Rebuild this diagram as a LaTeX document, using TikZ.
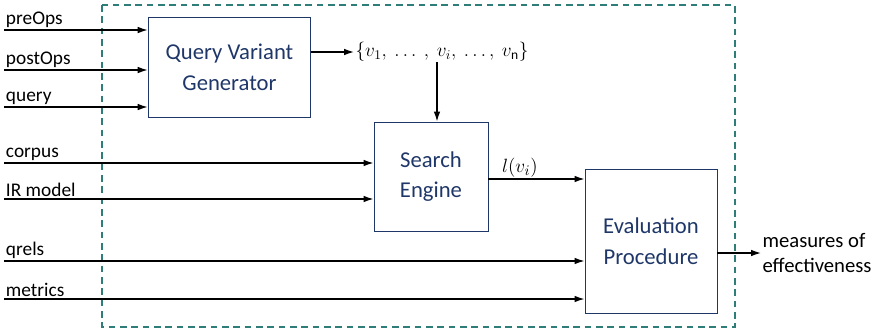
\documentclass[tikz,border=0pt]{standalone}
\usepackage{fontspec}
\setmainfont{Carlito}
\usepackage{amsmath}
\usepackage{tikz}
\usetikzlibrary{arrows.meta,positioning,calc}
\definecolor{QVnavy}{HTML}{1F3768}
\definecolor{QVteal}{HTML}{2E7D78}

\tikzset{
  blk/.style={draw=QVnavy,line width=0.7pt,text=QVnavy,align=center,
              font=\fontsize{17}{23}\selectfont},
  arr/.style={line width=1pt,-{Latex[length=7.5pt,width=5pt]}},
  lbl/.style={font=\fontsize{14.5}{17}\selectfont,inner sep=1pt}
}

\begin{document}
\begin{tikzpicture}[x=0.75pt,y=-0.75pt]
        \useasboundingbox (0,0) rectangle (878,330);
        % dashed frame
        \draw[QVteal,dashed,line width=1pt,dash pattern=on 5pt off 3.5pt] (102,5) rectangle (735,327);
        % blocks
        \node[blk,minimum width=122pt,minimum height=75pt] (qvg) at (229.5,67) {Query Variant\\Generator};
        \node[blk,minimum width=85.5pt,minimum height=81.75pt] (se) at (431,176.5) {Search\\Engine};
        \node[blk,minimum width=99pt,minimum height=108pt] (ep) at (651,241) {Evaluation\\Procedure};
        % inputs of the generator
        \coordinate (pre) at (4,30);
        \coordinate (post) at (4,70);
        \coordinate (qry) at (4,107);
        \draw[arr] (pre) -- node[lbl,above right,pos=0] {preOps} (pre -| qvg.west);
        \draw[arr] (post) -- node[lbl,above right,pos=0] {postOps} (post -| qvg.west);
        \draw[arr] (qry) -- node[lbl,above right,pos=0] {query} (qry -| qvg.west);
        % inputs of the search engine
        \coordinate (corp) at (4,163);
        \coordinate (irm) at (4,199);
        \draw[arr] (corp) -- node[lbl,above right,pos=0] {corpus} (corp -| se.west);
        \draw[arr] (irm) -- node[lbl,above right,pos=0] {IR model} (irm -| se.west);
        % inputs of the evaluation
        \coordinate (qrl) at (4,261);
        \coordinate (mtr) at (4,299);
        \draw[arr] (qrl) -- node[lbl,above right,pos=0] {qrels} (qrl -| ep.west);
        \draw[arr] (mtr) -- node[lbl,above right,pos=0] {metrics} (mtr -| ep.west);
        % query variants
        \node[inner sep=1pt,anchor=west,font=\fontsize{14.5}{17}\selectfont] (vars) at (354,52)
          {$\{v_1,\ \ldots\ ,\ v_i,\ \ldots,\ v_{\mathrm{n}}\}$};
        \draw[arr] (qvg.east |- vars) -- (vars.west);
        \coordinate (vi) at (437,62);
        \draw[arr] (vi) -- (vi |- se.north);
        % results
        \coordinate (res) at (488,179);
        \draw[arr] (res) -- node[lbl,above,pos=0.33,font=\fontsize{15}{17}\selectfont] {$l(v_i)$} (res -| ep.west);
        % output
        \node[lbl,anchor=west,align=left,font=\fontsize{15.5}{19}\selectfont] (meas) at (761,253) {measures of\\effectiveness};
        \draw[arr] (ep.east |- meas) -- (meas.west);
      \end{tikzpicture}
\end{document}
